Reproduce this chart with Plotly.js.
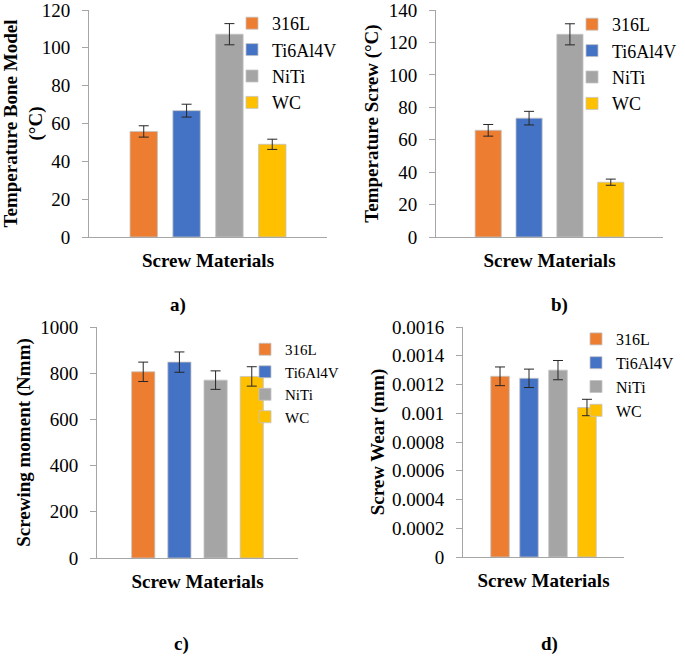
<!DOCTYPE html>
<html>
<head>
<meta charset="utf-8">
<script src="https://cdn.plot.ly/plotly-3.0.1.min.js"></script>
<style>html,body{margin:0;padding:0;background:#fff;}#chart{width:685px;height:657px;}</style>
</head>
<body>
<div id="chart"></div>
<script>
// ---- data ----
const materials = ['316L', 'Ti6Al4V', 'NiTi', 'WC'];
const colors = ['#ED7D31', '#4472C4', '#A5A5A5', '#FFC000'];
const categoryLabel = 'Screw Materials';

const tempBone = [55.8, 66.8, 107.2, 49.0];
const tempBoneErr = [3.0, 3.4, 5.6, 2.7];

const tempScrew = [65.8, 73.3, 125.0, 33.8];
const tempScrewErr = [3.6, 4.2, 6.5, 1.9];

const moment = [806, 848, 770, 786];
const momentErr = [42, 44, 40, 42];

const wear = [0.001257, 0.001243, 0.0013, 0.001040];
const wearErr = [0.000065, 0.000064, 0.000067, 0.000057];

const panelLabels = ['a)', 'b)', 'c)', 'd)'];
const yTitles = ['Temperature Bone Model<br>(°C)', 'Temperature Screw (°C)', 'Screwing moment (Nmm)', 'Screw Wear (mm)'];

// ---- build ----
const W = 685, H = 657;
const FONT = '"Liberation Serif", "Times New Roman", serif';
const px = v => v / W;
const py = v => 1 - v / H;

const panels = [
  {vals: tempBone, errs: tempBoneErr, range: [0, 120], dtick: 20, xd: [89, 327], yd: [10, 237],
   legX: 232, legY: 5, legFs: 18, lab: [178, 305], labBottom: false, ytStand: 1},
  {vals: tempScrew, errs: tempScrewErr, range: [0, 140], dtick: 20, xd: [436, 663], yd: [10, 237],
   legX: 572, legY: 6, legFs: 18, lab: [559, 305], labBottom: false, ytStand: 5},
  {vals: moment, errs: momentErr, range: [0, 1000], dtick: 200, xd: [97, 298], yd: [327, 558],
   legX: 245, legY: 333, legFs: 15, lab: [181, 657], labBottom: true, ytStand: 4},
  {vals: wear, errs: wearErr, range: [0, 0.0016], dtick: 0.0002, xd: [463, 624], yd: [327, 557],
   legX: 576, legY: 322, legFs: 16, lab: [549, 657], labBottom: true, ytStand: 2}
];

const data = [];
const layout = {
  width: W, height: H,
  margin: {l: 0, r: 0, t: 0, b: 0},
  paper_bgcolor: '#fff', plot_bgcolor: 'rgba(0,0,0,0)',
  font: {family: FONT, size: 19, color: '#000'},
  barmode: 'group', bargap: 0.28, bargroupgap: 0.36,
  showlegend: true,
  annotations: []
};

panels.forEach((p, i) => {
  const n = i === 0 ? '' : String(i + 1);
  const legName = 'legend' + n;
  materials.forEach((m, j) => {
    data.push({
      type: 'bar',
      name: m,
      x: [categoryLabel],
      y: [p.vals[j]],
      xaxis: 'x' + n, yaxis: 'y' + n,
      legend: legName,
      marker: {color: colors[j], line: {color: 'rgba(195,195,195,0.8)', width: 1}},
      error_y: {type: 'data', array: [p.errs[j]], visible: true, color: '#262626', thickness: 1, width: 5},
      hoverinfo: 'name+y'
    });
  });
  layout['xaxis' + n] = {
    domain: [px(p.xd[0]), px(p.xd[1])],
    anchor: 'y' + n,
    type: 'category',
    showticklabels: false, ticks: '',
    showline: true, linecolor: '#a6a6a6', linewidth: 1,
    showgrid: false, zeroline: false, fixedrange: true,
    title: {text: '<b>Screw Materials</b>', font: {family: FONT, size: 19, color: '#000'}, standoff: 16}
  };
  layout['yaxis' + n] = {
    domain: [py(p.yd[1]), py(p.yd[0])],
    anchor: 'x' + n,
    range: p.range, dtick: p.dtick, tick0: 0,
    showline: true, linecolor: '#a6a6a6', linewidth: 1,
    ticks: 'outside', ticklen: 6, tickcolor: '#a6a6a6',
    ticklabelstandoff: 8, ticklabeloverflow: 'allow',
    showgrid: false, zeroline: false, fixedrange: true,
    exponentformat: 'none',
    tickfont: {family: FONT, size: 19, color: '#000'},
    title: {text: '<b>' + yTitles[i] + '</b>', font: {family: FONT, size: 19, color: '#000'}, standoff: p.ytStand}
  };
  layout[legName] = {
    x: px(p.legX), y: py(p.legY), xanchor: 'left', yanchor: 'top',
    bgcolor: 'rgba(0,0,0,0)', borderwidth: 0,
    font: {family: FONT, size: p.legFs, color: '#000'},
    itemclick: false, itemdoubleclick: false
  };
  layout.annotations.push({
    xref: 'paper', yref: 'paper', x: px(p.lab[0]), y: py(p.lab[1]),
    xanchor: 'center', yanchor: p.labBottom ? 'bottom' : 'middle', showarrow: false,
    text: '<b>' + panelLabels[i] + '</b>',
    font: {family: FONT, size: 19, color: '#000'}
  });
});

Plotly.newPlot('chart', data, layout, {displayModeBar: false, responsive: false});
</script>
</body>
</html>
